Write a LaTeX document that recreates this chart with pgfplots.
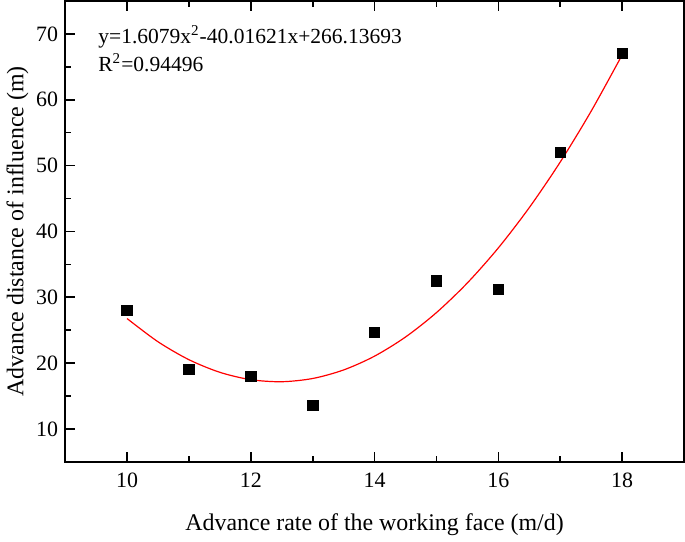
\documentclass[border=0pt]{standalone}
\usepackage{fontspec}
\setmainfont{Liberation Serif}
\usepackage{pgfplots}
\pgfplotsset{compat=1.18}

\begin{document}
\begin{tikzpicture}
\begin{axis}[
    width=309.5bp, height=230.5bp,
    scale only axis,
    xmin=9, xmax=19,
    ymin=5, ymax=75,
    xtick={10,12,...,18},
    ytick={10,20,...,70},
    minor x tick num=1,
    minor y tick num=1,
    tick align=inside,
    xtick pos=both,
    ytick pos=left,
    major tick length=5bp,
    minor tick length=3bp,
    axis line style={line width=1bp},
    every tick/.style={black, line width=0.8bp},
    /pgf/number format/assume math mode=true,
    tick label style={font=\fontsize{11}{13}\selectfont},
    xticklabel style={yshift=-2bp},
    yticklabel style={xshift=0bp},
    label style={font=\fontsize{12}{14}\selectfont},
    xlabel={Advance rate of the working face (m/d)},
    ylabel={Advance distance of influence (m)},
    xlabel style={yshift=-6bp},
    ylabel style={yshift=-3bp},
    clip=false,
]
% quadratic fit, sampled values
\addplot[red, line width=0.6bp, smooth] coordinates {
    (10,26.7648) (10.5,23.2377) (11,20.5145) (11.5,18.5953) (12,17.4800)
    (12.5,17.1687) (13,17.6613) (13.5,18.9579) (14,21.0584) (14.5,23.9629)
    (15,27.6713) (15.5,32.1836) (16,37.4999) (16.5,43.6202) (17,50.5444)
    (17.5,58.2726) (18,66.8047)
};
\addplot[only marks, mark=square*, mark size=2.6bp, black] coordinates {
    (10,28.0) (11,19.0) (12,18.0) (13,13.6) (14,24.7)
    (15,32.5) (16,31.2) (17,52.0) (18,67.0)
};
\node[anchor=north west, align=left, font=\fontsize{10.8}{12.8}\selectfont, inner sep=0pt]
    at (axis cs:9.53,71.3) {y=1.6079x\textsuperscript{2}-40.01621x+266.13693\\[1pt]R\textsuperscript{2}=0.94496};
\end{axis}
\end{tikzpicture}
\end{document}
